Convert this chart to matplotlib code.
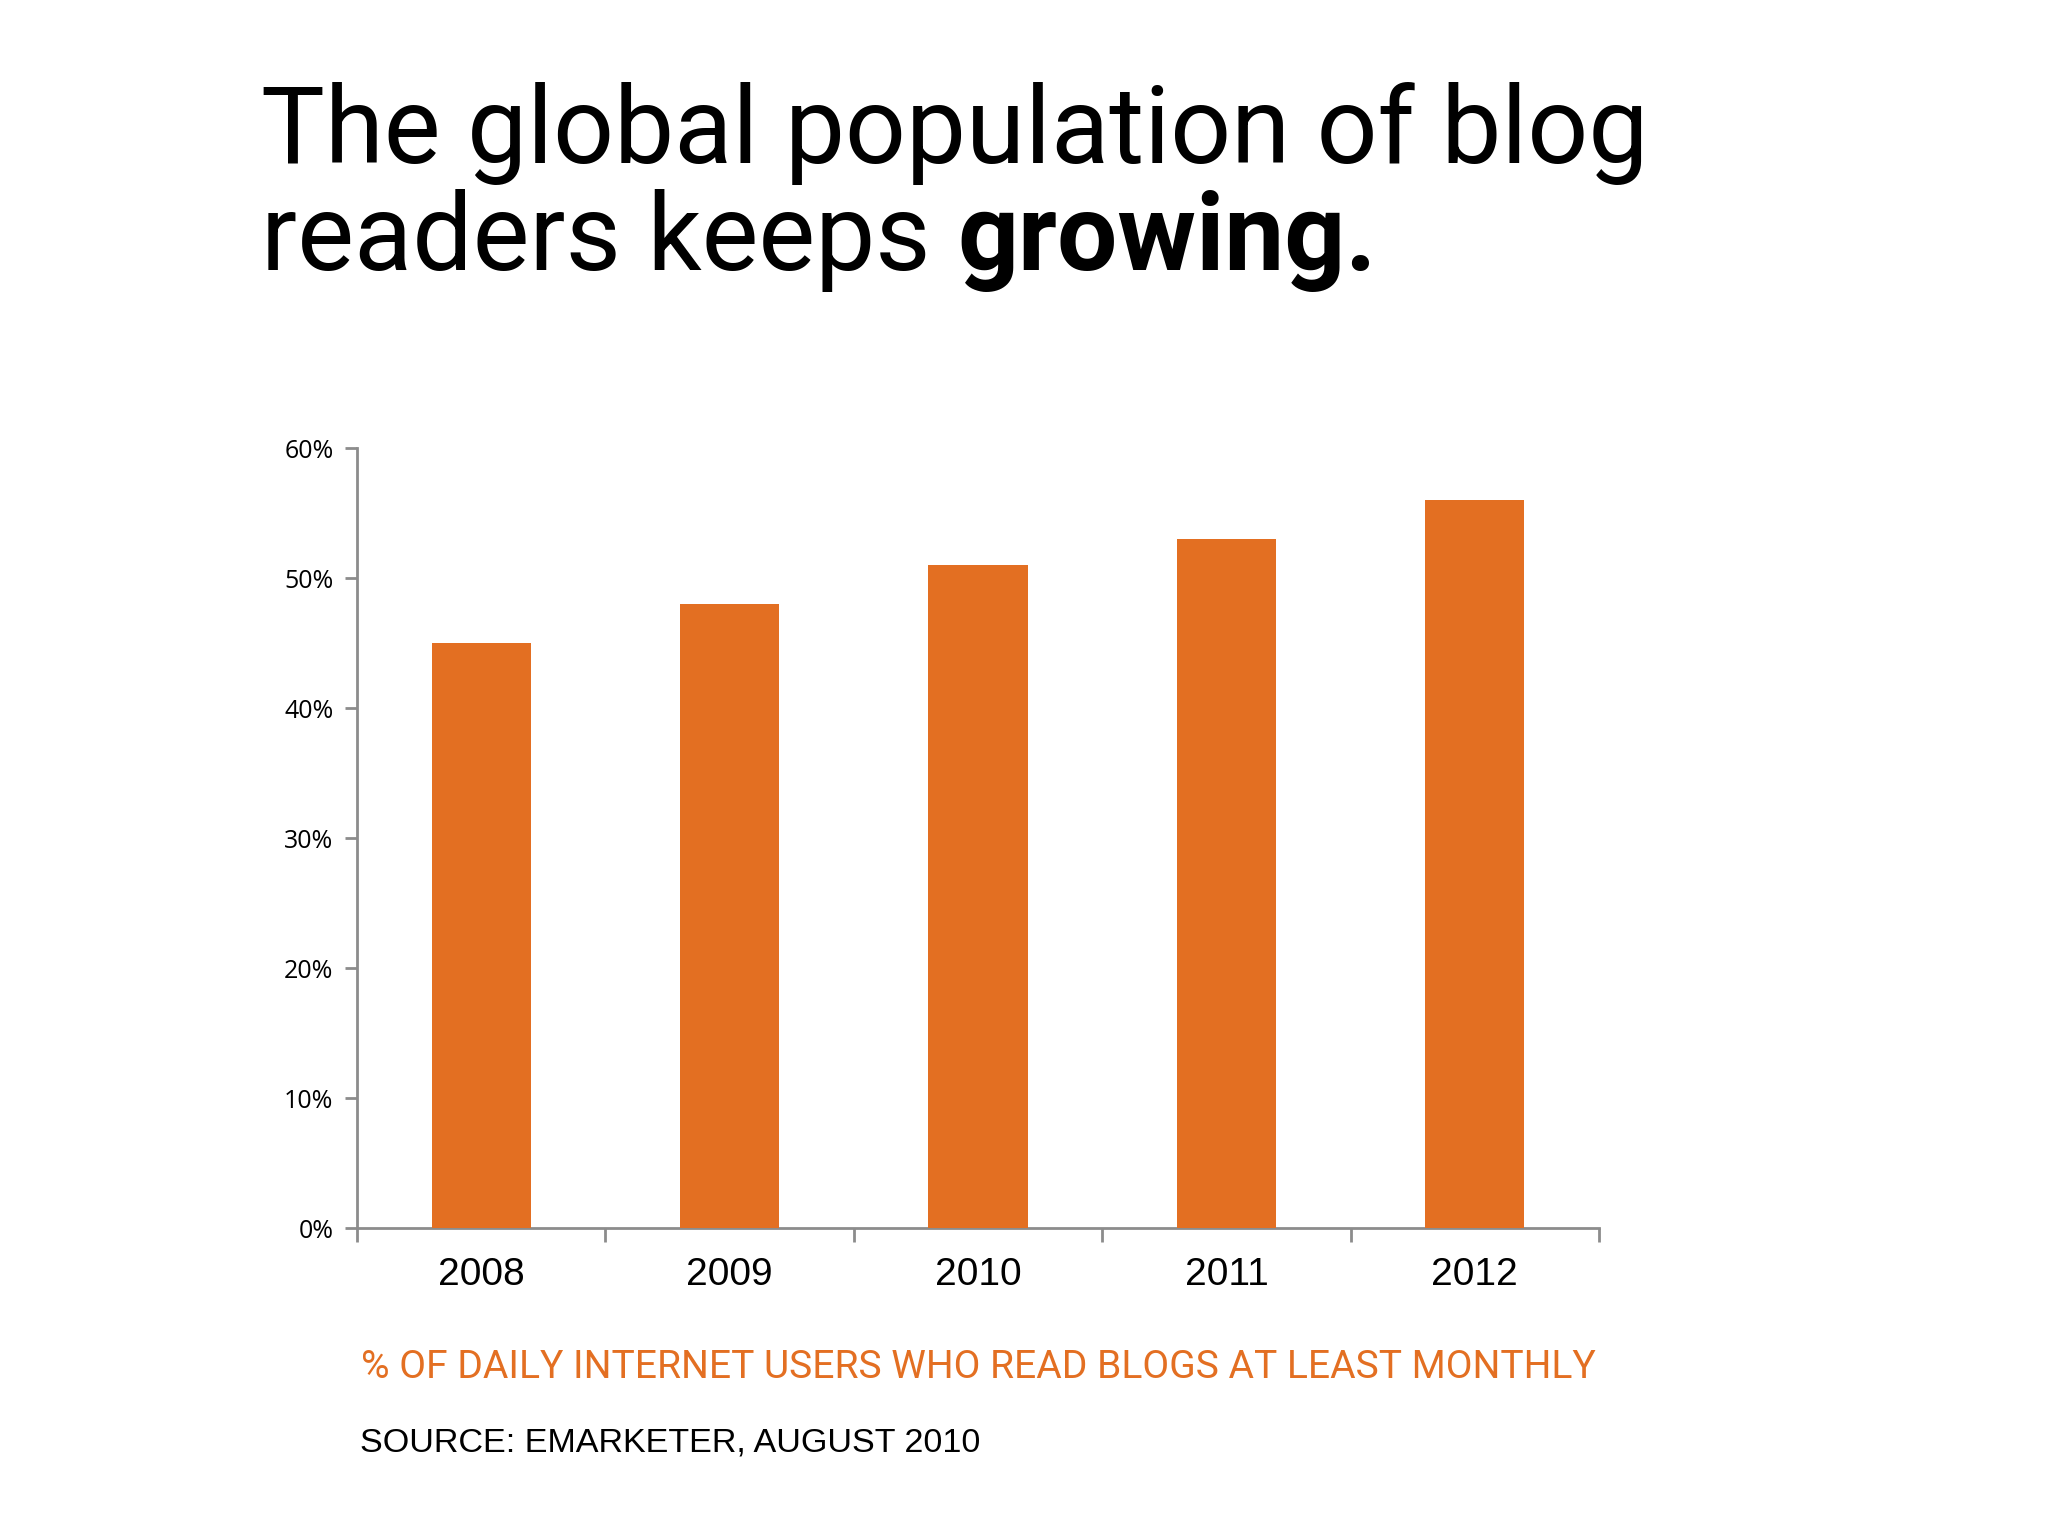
import matplotlib
matplotlib.use("Agg")
import matplotlib.pyplot as plt
import numpy as np
from matplotlib.ticker import FixedLocator, PercentFormatter

years = ["2008", "2009", "2010", "2011", "2012"]
values = [45, 48, 51, 53, 56]
yticks = [0, 10, 20, 30, 40, 50, 60]

ORANGE = "#E36F22"
AXIS = "#8C8C8C"

W, H = 2048, 1536
fig = plt.figure(figsize=(W / 100, H / 100), dpi=100)
fig.patch.set_facecolor("white")

ax = fig.add_axes([357 / W, 1 - 1228 / H, (1599 - 357) / W, (1228 - 448) / H])
x = np.arange(len(years))
ax.bar(x, values, width=0.4, color=ORANGE, zorder=3)
ax.set_xlim(-0.5, len(years) - 0.5)
ax.set_ylim(0, 60)

for s in ["top", "right"]:
    ax.spines[s].set_visible(False)
for s in ["left", "bottom"]:
    ax.spines[s].set_color(AXIS)
    ax.spines[s].set_linewidth(2)

ax.set_yticks(yticks)
ax.yaxis.set_major_formatter(PercentFormatter(decimals=0))
ax.tick_params(axis="y", length=9, width=2, color=AXIS, pad=8, labelsize=18)
for lbl in ax.get_yticklabels():
    lbl.set_fontfamily(["Open Sans", "DejaVu Sans"])

ax.set_xticks(x)
ax.set_xticklabels(years)
ax.tick_params(axis="x", which="major", length=0, pad=21, labelsize=28)
for lbl in ax.get_xticklabels():
    lbl.set_fontfamily(["Liberation Sans", "DejaVu Sans"])
ax.xaxis.set_minor_locator(FixedLocator(np.arange(-0.5, len(years), 1.0)))
ax.tick_params(axis="x", which="minor", length=10, width=2, color=AXIS)

renderer = fig.canvas.get_renderer()

# Title
TF = ["Roboto", "DejaVu Sans"]
fig.text(261 / W, 1 - 163 / H, "The global population of blog", fontsize=77,
         family=TF, va="baseline", ha="left", color="black")
t1 = fig.text(261 / W, 1 - 270 / H, "readers keeps ", fontsize=77,
              family=TF, va="baseline", ha="left", color="black")
bb = t1.get_window_extent(renderer=renderer)
fig.text(bb.x1 / W, 1 - 270 / H, "growing.", fontsize=77, fontweight="bold",
         family=TF, va="baseline", ha="left", color="black")

sub = fig.text(361 / W, 1 - 1378 / H, "% OF DAILY INTERNET USERS WHO READ BLOGS AT LEAST MONTHLY",
               fontsize=35, family=["Roboto", "DejaVu Sans"], color=ORANGE,
               va="baseline", ha="left")
wb = sub.get_window_extent(renderer=renderer).width
sub.set_fontsize(35 * (1234 / wb))

fig.text(360 / W, 1 - 1452 / H, "SOURCE: EMARKETER, AUGUST 2010",
         fontsize=24.6, family=["Liberation Sans", "DejaVu Sans"], color="black",
         va="baseline", ha="left")

fig.savefig("out.png", dpi=100, facecolor="white")
